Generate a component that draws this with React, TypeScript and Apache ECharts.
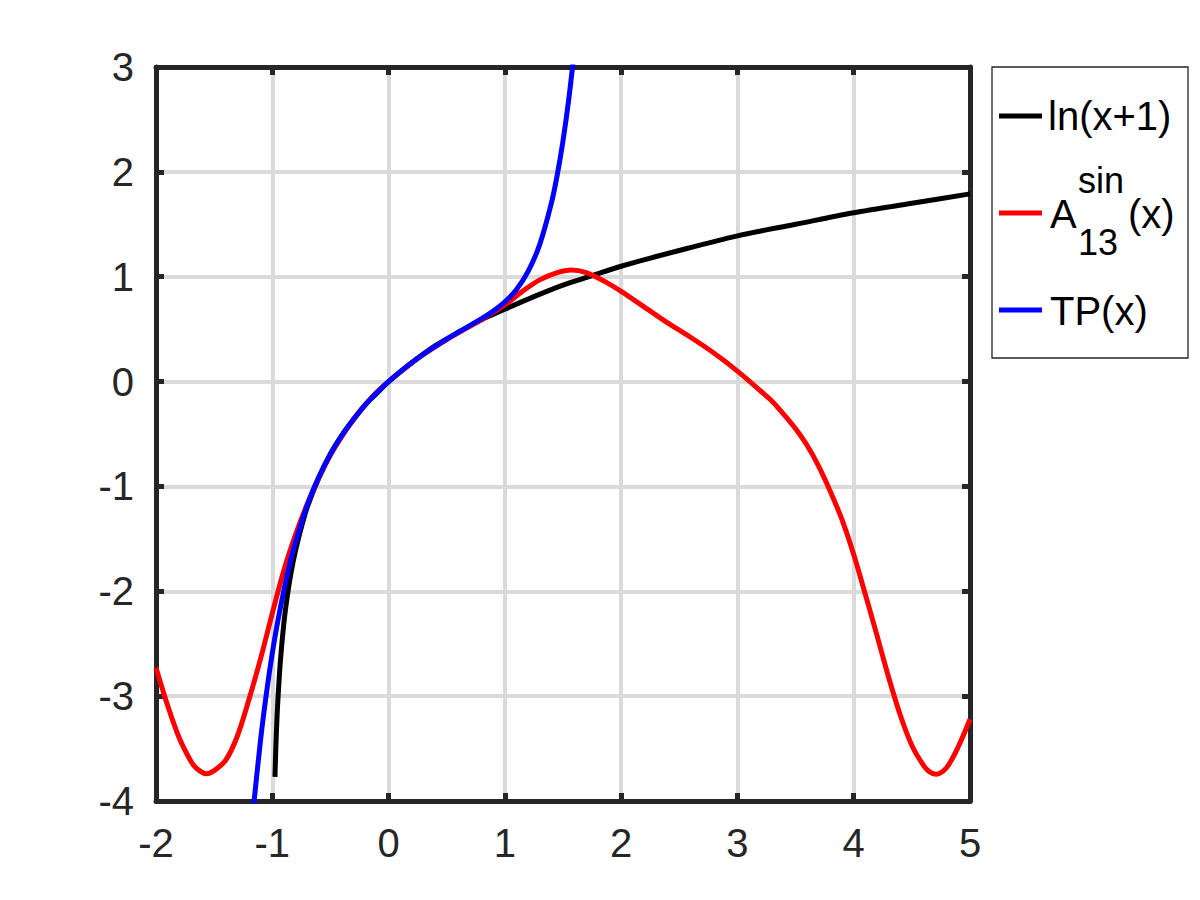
import React, { useEffect, useRef } from "react";
import * as echarts from "echarts";

// ln(x+1)
const lnX = [-0.977, -0.97, -0.96, -0.95, -0.93, -0.9, -0.87, -0.84, -0.8, -0.75, -0.7, -0.6, -0.5, -0.4, -0.3, -0.2, -0.1, 0, 0.2, 0.4, 0.6, 0.8, 1.0, 1.25, 1.5, 1.75, 2.0, 2.5, 3.0, 3.5, 4.0, 4.5, 5.0];
const lnY = [-3.77, -3.51, -3.22, -3.0, -2.66, -2.3, -2.04, -1.83, -1.61, -1.39, -1.2, -0.92, -0.69, -0.51, -0.36, -0.22, -0.11, 0, 0.18, 0.34, 0.47, 0.59, 0.69, 0.81, 0.92, 1.01, 1.1, 1.25, 1.39, 1.5, 1.61, 1.7, 1.79];

// A_13^sin(x)
const aX = [-2.0, -1.9, -1.8, -1.7, -1.65, -1.57, -1.5, -1.4, -1.3, -1.2, -1.1, -1.0, -0.9, -0.8, -0.7, -0.6, -0.5, -0.4, -0.3, -0.2, -0.1, 0, 0.25, 0.5, 0.75, 1.0, 1.15, 1.3, 1.45, 1.57, 1.7, 1.85, 2.0, 2.2, 2.4, 2.6, 2.8, 3.0, 3.2, 3.3, 3.4, 3.5, 3.6, 3.7, 3.8, 3.9, 4.0, 4.1, 4.2, 4.3, 4.4, 4.5, 4.6, 4.65, 4.71, 4.8, 4.9, 5.0];
const aY = [-2.73, -3.09, -3.4, -3.62, -3.69, -3.74, -3.71, -3.61, -3.38, -3.03, -2.64, -2.21, -1.8, -1.46, -1.17, -0.92, -0.7, -0.52, -0.36, -0.22, -0.1, 0.0, 0.22, 0.4, 0.56, 0.73, 0.86, 0.97, 1.04, 1.065, 1.04, 0.96, 0.86, 0.71, 0.56, 0.42, 0.27, 0.1, -0.09, -0.19, -0.315, -0.45, -0.61, -0.81, -1.05, -1.32, -1.65, -2.03, -2.42, -2.82, -3.18, -3.47, -3.66, -3.72, -3.745, -3.68, -3.48, -3.22];

// TP(x)
const tpX = [-1.16, -1.1, -1.05, -1.0, -0.95, -0.9, -0.85, -0.8, -0.7, -0.6, -0.5, -0.4, -0.3, -0.2, -0.1, 0, 0.2, 0.4, 0.6, 0.8, 0.9, 1.0, 1.1, 1.2, 1.3, 1.4, 1.45, 1.5, 1.55, 1.6];
const tpY = [-4.04, -3.41, -2.97, -2.59, -2.27, -1.99, -1.74, -1.53, -1.18, -0.91, -0.69, -0.51, -0.357, -0.223, -0.105, 0, 0.182, 0.336, 0.471, 0.6, 0.672, 0.76, 0.878, 1.05, 1.308, 1.701, 1.968, 2.296, 2.696, 3.183];

const xTicks = [-2, 5];
const yTicks = [-4, 3];

const FONT = '"Liberation Sans", Arial, Helvetica, sans-serif';
const AX = "#262626";

const pairs = (xs: number[], ys: number[]) => xs.map((x, i) => [x, ys[i]]);

export default function App() {
  const ref = useRef<HTMLDivElement>(null);
  useEffect(() => {
    document.body.style.margin = "0";
    const chart = echarts.init(ref.current!, null, { renderer: "svg" });
    const axisCommon = {
      type: "value" as const,
      interval: 1,
      axisLine: { show: true, onZero: false, lineStyle: { color: AX, width: 5 } },
      axisTick: { show: true, inside: true, length: 8, lineStyle: { color: AX, width: 5 } },
    };
    const lineSeries = (name: string, data: number[][], color: string) => ({
      name,
      type: "line",
      data,
      showSymbol: false,
      symbol: "none",
      smooth: 0.3,
      clip: true,
      lineStyle: { color, width: 5 },
      itemStyle: { color },
    });
    const txt = (text: string, x: number, y: number, size: number) => ({
      type: "text", x, y, z: 11,
      style: { text, fill: "#000000", fontSize: size, fontFamily: FONT, align: "left", verticalAlign: "middle", textAlign: "left", textVerticalAlign: "middle" },
    });
    chart.setOption({
      animation: false,
      backgroundColor: "#ffffff",
      grid: { left: 156, right: 230, top: 67, bottom: 99, containLabel: false },
      xAxis: [
        {
          ...axisCommon,
          min: xTicks[0],
          max: xTicks[1],
          position: "bottom",
          splitLine: { show: true, lineStyle: { color: "#dadada", width: 4 } },
          axisLabel: { color: AX, fontSize: 40, fontFamily: FONT, margin: 22 },
        },
        {
          ...axisCommon,
          min: xTicks[0],
          max: xTicks[1],
          position: "top",
          splitLine: { show: false },
          axisLabel: { show: false },
        },
      ],
      yAxis: [
        {
          ...axisCommon,
          min: yTicks[0],
          max: yTicks[1],
          position: "left",
          splitLine: { show: true, lineStyle: { color: "#dadada", width: 4 } },
          axisLabel: { color: AX, fontSize: 40, fontFamily: FONT, margin: 22 },
        },
        {
          ...axisCommon,
          min: yTicks[0],
          max: yTicks[1],
          position: "right",
          splitLine: { show: false },
          axisLabel: { show: false },
        },
      ],
      series: [
        lineSeries("ln(x+1)", pairs(lnX, lnY), "#000000"),
        lineSeries("A_13^sin(x)", pairs(aX, aY), "#ff0000"),
        lineSeries("TP(x)", pairs(tpX, tpY), "#0000ff"),
      ],
      graphic: [
        {
          type: "rect",
          shape: { x: 992, y: 67, width: 196, height: 291 },
          style: { fill: "#ffffff", stroke: AX, lineWidth: 1.3 },
          z: 10,
        },
        { type: "line", shape: { x1: 999, y1: 116, x2: 1042, y2: 116 }, style: { stroke: "#000000", lineWidth: 5 }, z: 11 },
        { type: "line", shape: { x1: 999, y1: 213, x2: 1042, y2: 213 }, style: { stroke: "#ff0000", lineWidth: 5 }, z: 11 },
        { type: "line", shape: { x1: 999, y1: 310, x2: 1042, y2: 310 }, style: { stroke: "#0000ff", lineWidth: 5 }, z: 11 },
        txt("ln(x+1)", 1048, 116, 40),
        txt("A", 1050, 214, 40),
        txt("sin", 1078, 180, 36),
        txt("13", 1078, 242, 36),
        txt("(x)", 1128, 214, 40),
        txt("TP(x)", 1050, 311, 40),
      ],
    });
    return () => chart.dispose();
  }, []);
  return <div ref={ref} style={{ width: 1200, height: 900 }} />;
}
